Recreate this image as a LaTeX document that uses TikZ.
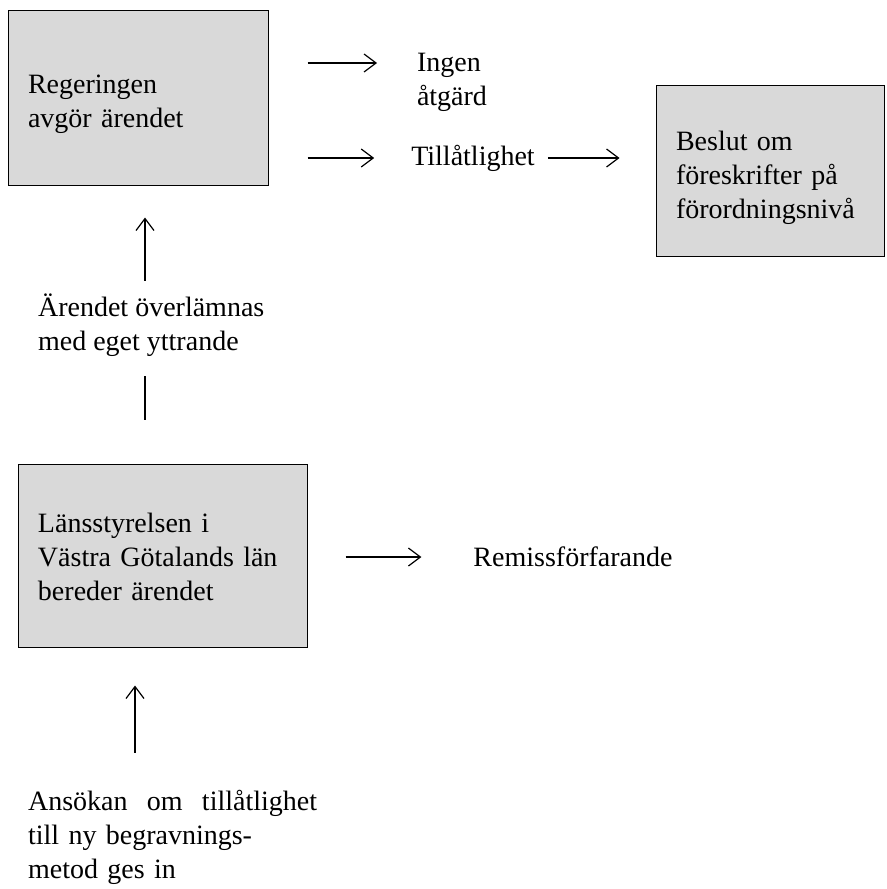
\documentclass[tikz,border=0pt]{standalone}
\usepackage{fontspec}
\setmainfont{Liberation Serif}
\usetikzlibrary{arrows.meta, calc}

\newcommand{\topgap}[1]{\rule{0pt}{#1}}

\begin{document}
\begin{tikzpicture}[x=0.5pt, y=-0.5pt, every text node part/.style={align=left},
  font=\fontsize{14}{17}\selectfont]

\definecolor{boxgray}{gray}{0.85}
\tikzstyle{box}=[draw, fill=boxgray, line width=0.5pt, inner xsep=10pt, inner ysep=0pt]
\tikzstyle{arr}=[draw, line width=0.6pt, -{Straight Barb[length=6pt, width=9pt]}]
\tikzstyle{stub}=[draw, line width=0.6pt]

\useasboundingbox (0,0) rectangle (887,889);

\node (regering) [box, text width=110pt, minimum height=87.5pt] at (138, 97.5)
  {\topgap{16.5pt}Regeringen\\avgör ärendet};
\node (beslut)   [box, text width=94pt, minimum height=85.5pt] at (770, 170.5)
  {\topgap{17pt}Beslut om\\föreskrifter på\\förordningsnivå};
\node (lst)      [box, text width=124.5pt, minimum height=91.5pt] at (162.5, 555.5)
  {\topgap{11pt}Länsstyrelsen i\\Västra Götalands län\\bereder ärendet};
\node (ingen)    [align=center] at (452, 82) {Ingen\\åtgärd};
\node (tillat)   at (473, 158) {Tillåtlighet};
\node (remiss)   at (573, 557) {Remissförfarande};
\node (overl)    [anchor=west] at (31, 325) {Ärendet överlämnas\\med eget yttrande};
\node (ansokan)  [anchor=west, text width=144.5pt] at (21, 837)
  {\makebox[144.5pt][s]{Ansökan\hfill om\hfill tillåtlighet}\\till ny begravnings-\\metod ges in};

\coordinate (ingenarr) at (377, 63);
\coordinate (col1) at (145, 0);
\coordinate (col2) at (135, 0);

\path [arr] (regering.east |- ingenarr) -- (ingenarr) [shorten <=19.5pt];
\path [arr, shorten <=19.5pt, shorten >=15pt] (regering.east |- tillat) -- (tillat.west);
\path [arr, shorten <=3pt, shorten >=18pt] (tillat.east) -- (tillat.east -| beslut.west);
\path [arr, shorten <=3pt, shorten >=16pt] (overl.north -| col1) -- (regering.south -| col1);
\path [stub, shorten <=22pt, shorten >=6.5pt] (lst.north -| col1) -- (overl.south -| col1);
\path [arr, shorten <=19pt, shorten >=22.5pt] (lst.east |- remiss) -- (remiss.west);
\path [arr, shorten <=15pt, shorten >=19pt] (ansokan.north -| col2) -- (lst.south -| col2);

\end{tikzpicture}
\end{document}
